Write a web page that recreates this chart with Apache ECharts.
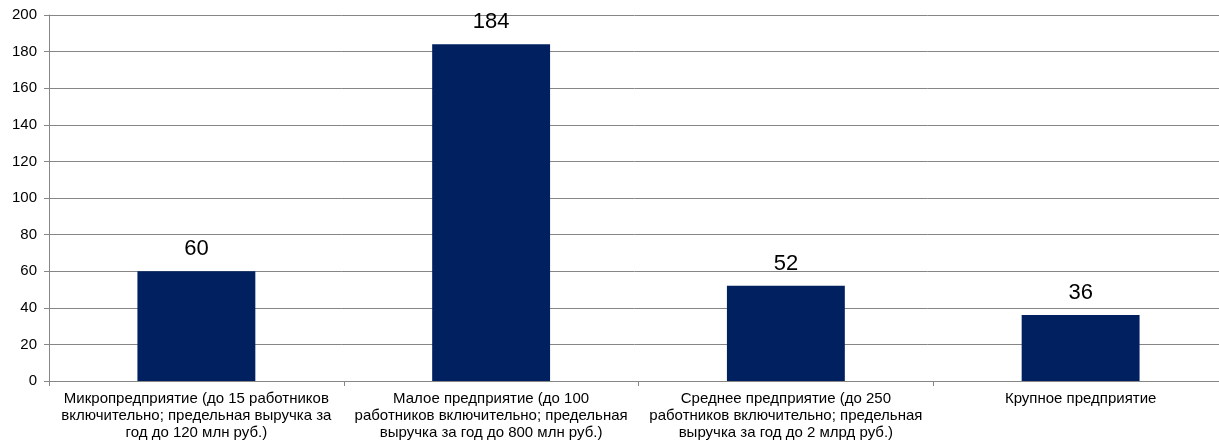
<!DOCTYPE html>
<html>
<head>
<meta charset="utf-8">
<script src="https://cdn.jsdelivr.net/npm/echarts@6/dist/echarts.min.js"></script>
<style>
html, body { margin: 0; padding: 0; background: #fff; }
#main { width: 1219px; height: 447px; }
</style>
</head>
<body>
<div id="main"></div>
<script>
const categories = [
    'Микропредприятие (до 15 работников\nвключительно; предельная выручка за\nгод до 120 млн руб.)',
    'Малое предприятие (до 100\nработников включительно; предельная\nвыручка за год до 800 млн руб.)',
    'Среднее предприятие (до 250\nработников включительно; предельная\nвыручка за год до 2 млрд руб.)',
    'Крупное предприятие'
];
const values = [60, 184, 52, 36];

const font = 'Arial, "Liberation Sans", sans-serif';

const option = {
    animation: false,
    backgroundColor: '#fff',
    grid: {
        left: 49, top: 15, width: 1179, height: 366,
        containLabel: false, outerBoundsMode: 'none'
    },
    xAxis: {
        type: 'category',
        data: categories,
        axisLine: { lineStyle: { color: '#868686', width: 1 } },
        axisTick: { show: true, length: 5, lineStyle: { color: '#868686' } },
        axisLabel: {
            interval: 0,
            margin: 9,
            color: '#000',
            fontFamily: font,
            fontSize: 15,
            lineHeight: 17
        }
    },
    yAxis: {
        type: 'value',
        min: 0,
        max: 200,
        interval: 20,
        axisLine: { show: true, lineStyle: { color: '#868686', width: 1 } },
        axisTick: { show: true, length: 5, lineStyle: { color: '#868686' } },
        splitLine: { lineStyle: { color: '#868686', width: 1 } },
        axisLabel: { color: '#000', fontFamily: font, fontSize: 15, margin: 12 }
    },
    series: [
        {
            type: 'bar',
            data: values,
            barWidth: '40%',
            itemStyle: { color: '#002060' },
            label: {
                show: true,
                position: 'top',
                distance: 11,
                color: '#000',
                fontFamily: font,
                fontSize: 22
            }
        }
    ]
};

const myChart = echarts.init(document.getElementById('main'));
myChart.setOption(option);
</script>
</body>
</html>
